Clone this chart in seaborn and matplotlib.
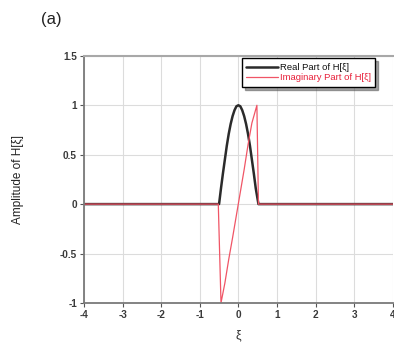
import matplotlib
matplotlib.use("Agg")
import matplotlib.pyplot as plt
import seaborn as sns
import pandas as pd

# Real part of the transfer function H[xi]
real_xi = [-4.0, -0.5, -0.45, -0.4, -0.35, -0.3, -0.25, -0.2, -0.15, -0.1, -0.05, 0.0,
           0.05, 0.1, 0.15, 0.2, 0.25, 0.3, 0.35, 0.4, 0.45, 0.52, 4.0]
real_amp = [0.0, 0.0, 0.16, 0.31, 0.45, 0.59, 0.71, 0.81, 0.89, 0.95, 0.99, 1.0,
            0.99, 0.95, 0.89, 0.81, 0.71, 0.59, 0.45, 0.31, 0.16, 0.0, 0.0]

# Imaginary part of the transfer function H[xi]
imag_xi = [-4.0, -0.52, -0.45, -0.35, -0.25, -0.15, -0.05, 0.05, 0.15, 0.25, 0.35, 0.48, 0.52, 4.0]
imag_amp = [0.0, 0.0, -1.0, -0.80, -0.56, -0.34, -0.11, 0.12, 0.35, 0.60, 0.82, 1.0, 0.0, 0.0]

x_ticks = [-4, -3, -2, -1, 0, 1, 2, 3, 4]
y_ticks = [-1, -0.5, 0, 0.5, 1, 1.5]
y_tick_labels = ["-1", "-0.5", "0", "0.5", "1", "1.5"]

sns.set_theme(style="whitegrid")
plt.rcParams["font.family"] = ["Liberation Sans", "DejaVu Sans"]

real_df = pd.DataFrame({"xi": real_xi, "amp": real_amp})
imag_df = pd.DataFrame({"xi": imag_xi, "amp": imag_amp})

fig = plt.figure(figsize=(3.94, 3.47), dpi=100)
ax = fig.add_axes([0.213, 0.127, 0.784, 0.712])

sns.lineplot(data=real_df, x="xi", y="amp", ax=ax, color="#2b2b2b", lw=1.8,
             estimator=None, sort=False, label="Real Part of H[ξ]")
sns.lineplot(data=imag_df, x="xi", y="amp", ax=ax, color="#f05566", lw=0.9,
             estimator=None, sort=False, label="Imaginary Part of H[ξ]")

ax.set_xlim(-4, 4)
ax.set_ylim(-1, 1.5)
ax.set_xticks(x_ticks)
ax.set_xticklabels([str(t) for t in x_ticks])
ax.set_yticks(y_ticks)
ax.set_yticklabels(y_tick_labels)

ax.grid(True, color="#dcdcdc", lw=0.8)
ax.set_facecolor("white")
for side in ["left", "bottom"]:
    ax.spines[side].set_color("#7a7a7a")
    ax.spines[side].set_linewidth(1.3)
ax.spines["top"].set_color("#a8a8a8")
ax.spines["top"].set_linewidth(1.5)
ax.spines["right"].set_visible(False)

ax.tick_params(axis="both", which="major", direction="out", length=3, width=0.8,
               color="#555555", labelsize=7.2, labelcolor="#3a3a3a", pad=2,
               left=True, bottom=True)
for lbl in ax.get_xticklabels() + ax.get_yticklabels():
    lbl.set_fontweight("bold")

ax.set_xlabel("ξ", fontsize=9, color="#333333", labelpad=7)
ax.set_ylabel("Amplitude of H[ξ]", fontsize=8.5, color="#222222", labelpad=26)

leg = ax.legend(loc="upper left", bbox_to_anchor=(0.511, 0.99), fontsize=6.8,
                frameon=True, fancybox=False, shadow=True, framealpha=1,
                edgecolor="black", handlelength=3.3, handletextpad=0.2,
                borderpad=0.5, labelspacing=0.1, borderaxespad=0)
leg.get_frame().set_linewidth(1.0)
for txt, col in zip(leg.get_texts(), ["#111111", "#e8203a"]):
    txt.set_color(col)

fig.text(0.105, 0.945, "(a)", fontsize=12, color="#222222", va="center")

fig.savefig("out.png", dpi=100, facecolor="white")
